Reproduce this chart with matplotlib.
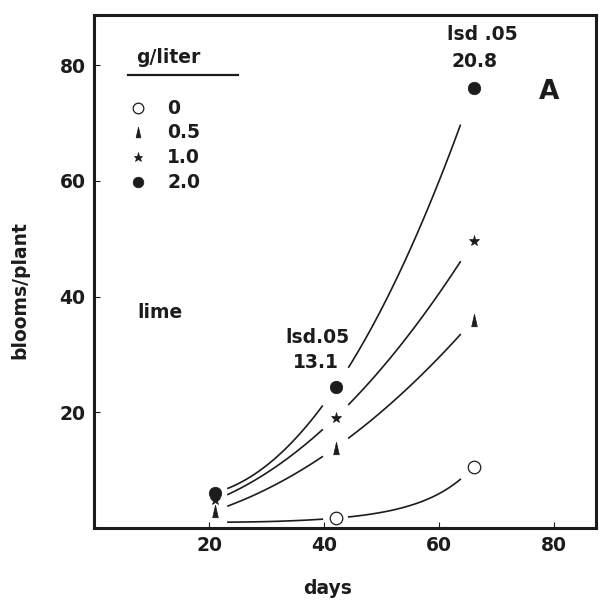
import numpy as np
import matplotlib.pyplot as plt
from matplotlib.lines import Line2D

plt.rcParams['font.family'] = ['DejaVu Sans']
plt.rcParams['font.weight'] = 'bold'

# data (days after start, blooms per plant)
days = [21, 42, 66]
lime_0 = [1.0, 1.7, 10.6]
lime_05 = [3.0, 13.9, 36.0]
lime_10 = [4.8, 19.1, 49.6]
lime_20 = [6.1, 24.3, 76.0]

levels = ['0', '0.5', '1.0', '2.0']
ink = '#1c1c1c'
fs = 13.5

# narrow upright triangle like the original
tri = [(-0.45, -1), (0.45, -1), (0, 1), (-0.45, -1)]

styles = {
    '0': dict(marker='o', ms=9, mfc='white', mec=ink, mew=0.9),
    '0.5': dict(marker=tri, ms=9, mfc=ink, mec=ink, mew=0.5),
    '1.0': dict(marker='*', ms=8, mfc=ink, mec=ink, mew=0.5),
    '2.0': dict(marker='o', ms=9, mfc=ink, mec=ink, mew=0.5),
}
series = {'0': lime_0, '0.5': lime_05, '1.0': lime_10, '2.0': lime_20}

fig = plt.figure(figsize=(5.99, 6.02), dpi=100)
ax = fig.add_axes([94 / 599, 74 / 602, 502 / 599, 513 / 602])

gap = 2.3
for lev in levels:
    y = np.array(series[lev])
    x = np.array(days, dtype=float)
    # smooth hand-drawn style curve through the three points
    if lev == '0':
        coef = np.polyfit(x, np.log(y), 2)
        f = lambda t, c=coef: np.exp(np.polyval(c, t))
    else:
        coef = np.polyfit(x, y, 2)
        f = lambda t, c=coef: np.polyval(c, t)
    for x0, x1 in zip(x[:-1], x[1:]):
        xs = np.linspace(x0 + gap, x1 - gap, 80)
        ax.plot(xs, f(xs), color=ink, lw=1.2, zorder=2)

# markers (the day-21 open circle is hidden in the original)
ax.plot(days[1:], lime_0[1:], ls='none', zorder=3, **styles['0'])
ax.plot(days, lime_05, ls='none', zorder=3, **styles['0.5'])
ax.plot(days, lime_10, ls='none', zorder=3, **styles['1.0'])
ax.plot(days, lime_20, ls='none', zorder=4, **styles['2.0'])

ax.set_xlim(0, 87.3)
ax.set_ylim(0, 88.7)
ax.set_xticks([20, 40, 60, 80])
ax.set_yticks([20, 40, 60, 80])
ax.tick_params(direction='in', length=4, width=0.8, colors=ink, labelsize=fs, pad=6)
for lab in ax.get_xticklabels() + ax.get_yticklabels():
    lab.set_fontweight('bold')
for sp in ax.spines.values():
    sp.set_linewidth(2.2)
    sp.set_color(ink)

# key in upper left
ax.text(7.3, 81.3, 'g/liter', fontsize=fs, fontweight='bold', color=ink, va='center', ha='left')
ax.add_line(Line2D([5.9, 25.0], [78.4, 78.4], color=ink, lw=1.6))
key_y = [72.6, 68.4, 64.1, 59.8]
for lev, ky in zip(levels, key_y):
    st = dict(styles[lev])
    st['ms'] = st['ms'] * 0.85
    ax.plot([7.6], [ky], ls='none', **st)
    ax.text(12.7, ky, lev, fontsize=fs, fontweight='bold', color=ink, va='center', ha='left')

ax.text(7.5, 37.2, 'lime', fontsize=fs, fontweight='bold', color=ink, va='center', ha='left')
ax.text(61.4, 85.3, 'lsd .05', fontsize=fs, fontweight='bold', color=ink, va='center', ha='left')
ax.text(62.1, 80.6, '20.8', fontsize=fs, fontweight='bold', color=ink, va='center', ha='left')
ax.text(38.8, 33.0, 'lsd.05', fontsize=fs, fontweight='bold', color=ink, va='center', ha='center')
ax.text(38.6, 28.7, '13.1', fontsize=fs, fontweight='bold', color=ink, va='center', ha='center')
ax.text(79.1, 75.3, 'A', fontsize=19, fontweight='heavy', color=ink, va='center', ha='center')

fig.text(20 / 599, 1 - 290 / 602, 'blooms/plant', rotation=90, fontsize=fs, fontweight='bold',
         color=ink, ha='center', va='center')
fig.text(328 / 599, 1 - 589 / 602, 'days', fontsize=fs, fontweight='bold', color=ink,
         ha='center', va='center')

fig.savefig('out.png', dpi=100, facecolor='white')
